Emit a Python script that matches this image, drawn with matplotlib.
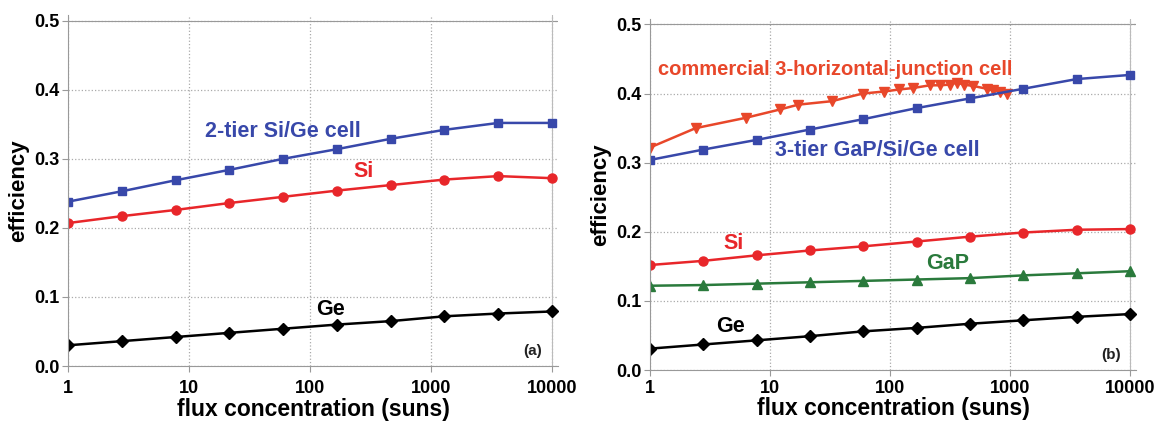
import numpy as np
import matplotlib
matplotlib.use('Agg')
import matplotlib.pyplot as plt

plt.rcParams['font.family'] = ['Liberation Sans', 'DejaVu Sans']
plt.rcParams['font.weight'] = 'bold'

# flux concentration (suns), 10 points log-spaced from 1 to 10000
flux = [1, 2.78, 7.74, 21.5, 59.9, 166.8, 464, 1292, 3594, 10000]

# panel (a)
a_tier2 = [0.238, 0.253, 0.269, 0.284, 0.300, 0.314, 0.329, 0.342, 0.352, 0.352]
a_si = [0.207, 0.217, 0.226, 0.236, 0.245, 0.254, 0.262, 0.270, 0.275, 0.272]
a_ge = [0.030, 0.036, 0.042, 0.048, 0.054, 0.060, 0.065, 0.072, 0.076, 0.079]

# panel (b)
b_tier3 = [0.304, 0.319, 0.333, 0.348, 0.363, 0.379, 0.393, 0.407, 0.421, 0.427]
b_si = [0.152, 0.158, 0.166, 0.173, 0.179, 0.186, 0.193, 0.199, 0.203, 0.204]
b_gap = [0.122, 0.123, 0.125, 0.127, 0.129, 0.131, 0.133, 0.137, 0.140, 0.143]
b_ge = [0.031, 0.037, 0.043, 0.049, 0.056, 0.061, 0.067, 0.072, 0.077, 0.081]

# commercial 3-horizontal-junction cell
comm_flux = [1, 2.4, 6.3, 12.1, 17.2, 32.7, 59, 89, 120, 155, 215, 260, 316,
             360, 415, 495, 640, 725, 830, 940]
comm_eff = [0.322, 0.350, 0.365, 0.377, 0.384, 0.389, 0.400, 0.403, 0.406,
            0.408, 0.412, 0.412, 0.413, 0.416, 0.413, 0.411, 0.407, 0.405,
            0.403, 0.399]

xticks = [1, 10, 100, 1000, 10000]
xticklabels = ['1', '10', '100', '1000', '10000']
yticks = [0.0, 0.1, 0.2, 0.3, 0.4, 0.5]

BLUE = '#3848aa'
RED = '#e8262a'
ORANGE = '#e8472a'
GREEN = '#2a7a3c'

fig = plt.figure(figsize=(11.57, 4.21), dpi=100)
ax1 = fig.add_axes([0.0588, 0.1306, 0.4235, 0.8333])
ax2 = fig.add_axes([0.5618, 0.121, 0.42, 0.834])


def style(ax, letter, xpad, lpad):
    ax.set_xscale('log')
    ax.set_xlim(1, 10000 * 10 ** (6 / 121))
    ax.set_ylim(0, 0.508)
    ax.set_xticks(xticks)
    ax.set_xticklabels(xticklabels)
    ax.minorticks_off()
    ax.set_yticks(yticks)
    ax.set_yticklabels(['%.1f' % v for v in yticks])
    ax.tick_params(labelsize=13, color='#999999', length=4, width=0.8, pad=2)
    ax.tick_params(axis='x', pad=xpad)
    for t in ax.get_xticklabels() + ax.get_yticklabels():
        t.set_fontweight('bold')
    ax.grid(True, color='#aaaaaa', linestyle=':', linewidth=0.9)
    ax.axhline(0.5, color='#999999', linewidth=0.8)
    ax.axvline(10000, color='#bbbbbb', linewidth=0.8)
    for s in ['top', 'right']:
        ax.spines[s].set_visible(False)
    for s in ['left', 'bottom']:
        ax.spines[s].set_color('#999999')
        ax.spines[s].set_linewidth(0.8)
    ax.set_xlabel('flux concentration (suns)', fontsize=16.5, fontweight='bold', labelpad=lpad)
    ax.set_ylabel('efficiency', fontsize=16, fontweight='bold', labelpad=4)
    ax.text(6900, 0.022, letter, fontsize=11, fontweight='bold', ha='center', va='center', color='#222222')


style(ax1, '(a)', 6, 1)
ax1.plot(flux, a_tier2, color=BLUE, lw=1.8, marker='s', ms=6.3)
ax1.plot(flux, a_si, color=RED, lw=1.8, marker='o', ms=6.5)
ax1.plot(flux, a_ge, color='black', lw=1.8, marker='D', ms=6)
ax1.text(60, 0.339, '2-tier Si/Ge cell', color=BLUE, fontsize=15.5, fontweight='bold', ha='center', va='center')
ax1.text(275, 0.281, 'Si', color=RED, fontsize=15.5, fontweight='bold', ha='center', va='center')
ax1.text(149, 0.082, 'Ge', color='black', fontsize=15.5, fontweight='bold', ha='center', va='center')

style(ax2, '(b)', 3, 0)
ax2.plot(comm_flux, comm_eff, color=ORANGE, lw=1.8, marker='v', ms=7)
ax2.plot(flux, b_tier3, color=BLUE, lw=1.8, marker='s', ms=6.3)
ax2.plot(flux, b_si, color=RED, lw=1.8, marker='o', ms=6.5)
ax2.plot(flux, b_gap, color=GREEN, lw=1.8, marker='^', ms=6.5)
ax2.plot(flux, b_ge, color='black', lw=1.8, marker='D', ms=6)
ax2.text(35, 0.435, 'commercial 3-horizontal-junction cell', color=ORANGE, fontsize=14.5, fontweight='bold', ha='center', va='center')
ax2.text(78, 0.318, '3-tier GaP/Si/Ge cell', color=BLUE, fontsize=15.5, fontweight='bold', ha='center', va='center')
ax2.text(5, 0.183, 'Si', color=RED, fontsize=15.5, fontweight='bold', ha='center', va='center')
ax2.text(305, 0.154, 'GaP', color=GREEN, fontsize=15.5, fontweight='bold', ha='center', va='center')
ax2.text(4.7, 0.063, 'Ge', color='black', fontsize=15.5, fontweight='bold', ha='center', va='center')

fig.savefig('out.png', dpi=100)
